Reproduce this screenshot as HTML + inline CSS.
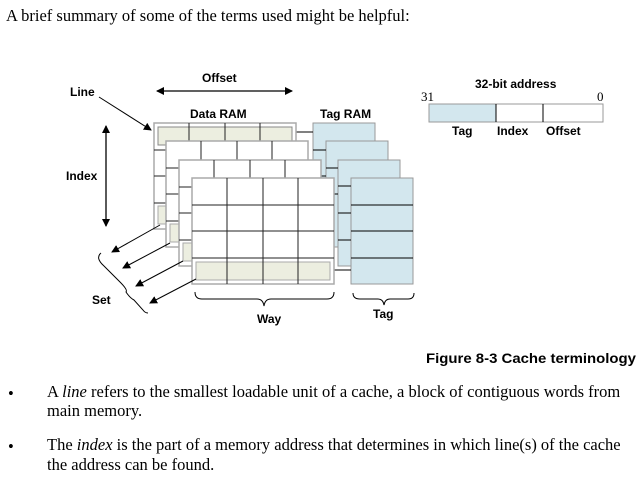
<!DOCTYPE html>
<html><head><meta charset="utf-8"><style>
body{margin:0;width:640px;height:481px;background:#fff;overflow:hidden;position:relative;font-family:"Liberation Serif",serif;color:#000}
.t{position:absolute;font-size:16.5px;white-space:nowrap;line-height:19px}
</style></head><body>
<div class="t" style="left:6px;top:6px">A brief summary of some of the terms used might be helpful:</div>
<svg width="640" height="380" style="position:absolute;left:0;top:0" font-family="Liberation Sans, sans-serif" font-weight="bold" font-size="12">
<defs><marker id="a" markerWidth="8" markerHeight="8" refX="7" refY="4" orient="auto" markerUnits="userSpaceOnUse"><path d="M0,0L8,4L0,8z" fill="#000"/></marker>
<marker id="b" markerWidth="8" markerHeight="8" refX="1" refY="4" orient="auto" markerUnits="userSpaceOnUse"><path d="M8,0L0,4L8,8z" fill="#000"/></marker></defs>
<text x="202" y="82">Offset</text>
<line x1="157" y1="91" x2="292" y2="91" stroke="#000" stroke-width="1.3" marker-start="url(#b)" marker-end="url(#a)"/>
<text x="70" y="96">Line</text>
<line x1="99" y1="97" x2="151" y2="130" stroke="#000" marker-end="url(#a)"/>
<text x="190" y="118">Data RAM</text><text x="320" y="118">Tag RAM</text>
<text x="66" y="180">Index</text>
<line x1="106" y1="126" x2="106" y2="226" stroke="#000" stroke-width="1.3" marker-start="url(#b)" marker-end="url(#a)"/>
<text x="92" y="304">Set</text><text x="257" y="323">Way</text><text x="373" y="318">Tag</text>
<g stroke="#999" fill="#d3e7ee">
<rect x="313" y="123" width="62" height="106"/><rect x="326" y="141" width="62" height="106"/><rect x="338" y="160" width="62" height="106"/><rect x="351" y="178" width="62" height="106"/>
</g>
<g stroke="#000">
<line x1="351" y1="205" x2="413" y2="205"/><line x1="351" y1="231" x2="413" y2="231"/><line x1="351" y1="258" x2="413" y2="258"/>
<line x1="326" y1="168" x2="338" y2="168"/><line x1="326" y1="194" x2="338" y2="194"/><line x1="338" y1="186" x2="351" y2="186"/><line x1="338" y1="213" x2="351" y2="213"/><line x1="338" y1="240" x2="351" y2="240"/>
<line x1="313" y1="150" x2="326" y2="150"/><line x1="313" y1="176" x2="326" y2="176"/><line x1="334" y1="270" x2="351" y2="270"/><line x1="296" y1="132" x2="313" y2="132"/>
</g>
<g transform="translate(154,123)">
<rect x="0" y="0" width="142" height="106" fill="#fff" stroke="#aaa" stroke-width="1.5"/>
<rect x="4" y="4" width="134" height="18" fill="#eceee0" stroke="#888"/>
<rect x="4" y="83" width="134" height="18" fill="#eceee0" stroke="#aaa"/>
<g stroke="#222"><line x1="35" y1="0" x2="35" y2="106"/><line x1="71" y1="0" x2="71" y2="106"/><line x1="106" y1="0" x2="106" y2="106"/><line x1="0" y1="27" x2="142" y2="27"/><line x1="0" y1="53" x2="142" y2="53"/><line x1="0" y1="80" x2="142" y2="80"/></g>
</g>
<g transform="translate(166,141)">
<rect width="142" height="106" fill="#fff" stroke="#aaa" stroke-width="1.5"/><rect x="4" y="83" width="134" height="18" fill="#eceee0" stroke="#aaa"/>
<g stroke="#222"><line x1="35" y1="0" x2="35" y2="106"/><line x1="71" y1="0" x2="71" y2="106"/><line x1="106" y1="0" x2="106" y2="106"/><line x1="0" y1="27" x2="142" y2="27"/><line x1="0" y1="53" x2="142" y2="53"/><line x1="0" y1="80" x2="142" y2="80"/></g></g>
<g transform="translate(179,160)">
<rect width="142" height="106" fill="#fff" stroke="#aaa" stroke-width="1.5"/><rect x="4" y="83" width="134" height="18" fill="#eceee0" stroke="#aaa"/>
<g stroke="#222"><line x1="35" y1="0" x2="35" y2="106"/><line x1="71" y1="0" x2="71" y2="106"/><line x1="106" y1="0" x2="106" y2="106"/><line x1="0" y1="27" x2="142" y2="27"/><line x1="0" y1="53" x2="142" y2="53"/><line x1="0" y1="80" x2="142" y2="80"/></g></g>
<g transform="translate(192,178)">
<rect width="142" height="106" fill="#fff" stroke="#aaa" stroke-width="1.5"/><rect x="4" y="84" width="134" height="18" fill="#eceee0" stroke="#aaa"/>
<g stroke="#222"><line x1="35" y1="0" x2="35" y2="106"/><line x1="71" y1="0" x2="71" y2="106"/><line x1="106" y1="0" x2="106" y2="106"/><line x1="0" y1="27" x2="142" y2="27"/><line x1="0" y1="53" x2="142" y2="53"/><line x1="0" y1="80" x2="142" y2="80"/></g></g>
<g stroke="#000" marker-end="url(#a)">
<line x1="160" y1="225" x2="112" y2="252"/><line x1="170" y1="243" x2="123" y2="268"/><line x1="183" y1="261" x2="136" y2="286"/><line x1="196" y1="279" x2="150" y2="303"/></g>
<g fill="none" stroke="#000">
<path d="M101,253 Q95,258 104,266 L120,282 Q128,290 126,292 Q130,298 134,300 L143,310 Q145,313 148,313"/>
<path d="M195,292 Q195,299 202,299 L257,299 Q263,299 264,306 Q265,299 271,299 L327,299 Q334,299 334,292"/>
<path d="M353,293 Q353,299 360,299 L378,299 Q383,299 384,305 Q385,299 390,299 L408,299 Q414,299 414,293"/>
</g>
<text x="475" y="88">32-bit address</text>
<text x="421" y="101" font-weight="normal" font-family="Liberation Serif, serif" font-size="13">31</text>
<text x="597" y="101" font-weight="normal" font-family="Liberation Serif, serif" font-size="13">0</text>
<rect x="429" y="104" width="67" height="18" fill="#d3e7ee" stroke="#999"/>
<rect x="496" y="104" width="107" height="18" fill="#fff" stroke="#999"/>
<line x1="496" y1="104" x2="496" y2="122" stroke="#000"/><line x1="543" y1="104" x2="543" y2="122" stroke="#000"/>
<text x="452" y="135">Tag</text><text x="497" y="135">Index</text><text x="546" y="135">Offset</text>
<text x="426" y="363" font-size="14" textLength="210" lengthAdjust="spacingAndGlyphs">Figure 8-3 Cache terminology</text>
</svg>
<div class="t" style="left:8px;top:384px">•</div>
<div class="t" style="left:47px;top:382px">A <i>line</i> refers to the smallest loadable unit of a cache, a block of contiguous words from</div>
<div class="t" style="left:47px;top:401px">main memory.</div>
<div class="t" style="left:8px;top:437px">•</div>
<div class="t" style="left:47px;top:435px">The <i>index</i> is the part of a memory address that determines in which line(s) of the cache</div>
<div class="t" style="left:47px;top:455px">the address can be found.</div>
</body></html>
